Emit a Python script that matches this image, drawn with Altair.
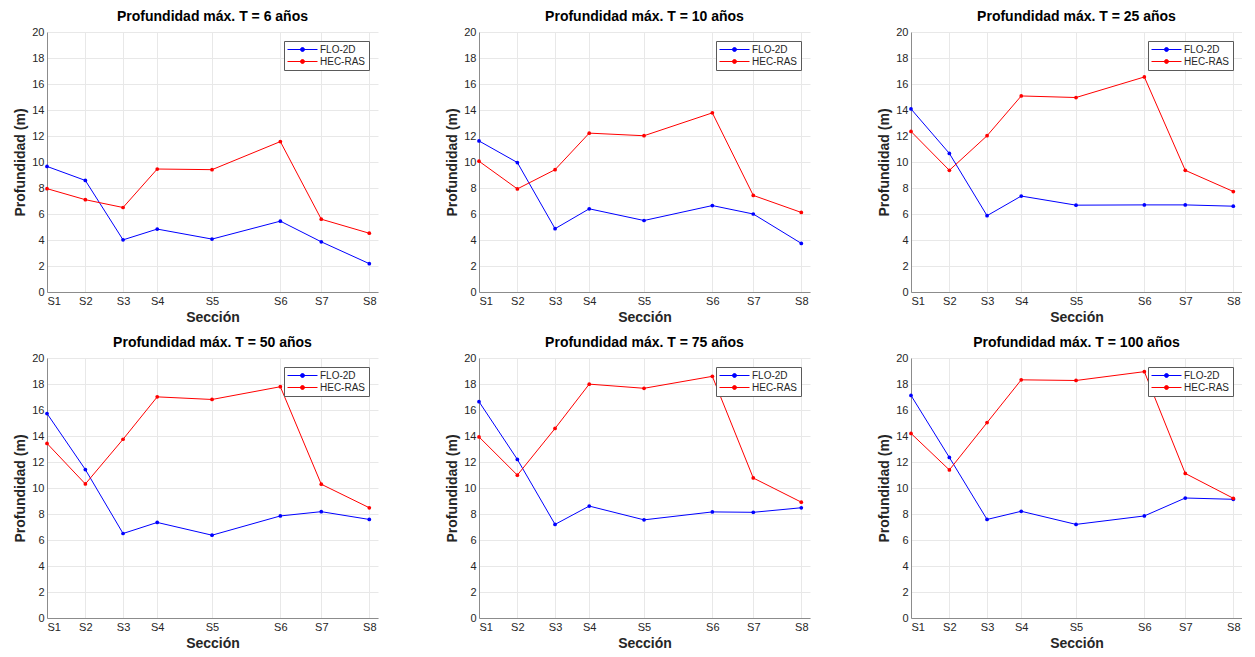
import json
import altair as alt
import pandas as pd

sections = ["S1", "S2", "S3", "S4", "S5", "S6", "S7", "S8"]
section_position = [0.0, 1.19, 2.36, 3.42, 5.12, 7.24, 8.51, 10.0]
models = ["FLO-2D", "HEC-RAS"]
model_colors = ["#0000ff", "#ff0000"]
return_periods = [6, 10, 25, 50, 75, 100]

flo2d_T6 = [9.66, 8.58, 4.01, 4.84, 4.07, 5.45, 3.86, 2.18]
hecras_T6 = [7.95, 7.10, 6.50, 9.46, 9.41, 11.57, 5.60, 4.52]
flo2d_T10 = [11.62, 9.96, 4.87, 6.40, 5.50, 6.65, 6.00, 3.74]
hecras_T10 = [10.06, 7.93, 9.41, 12.22, 12.02, 13.78, 7.43, 6.12]
flo2d_T25 = [14.08, 10.66, 5.87, 7.38, 6.68, 6.70, 6.70, 6.60]
hecras_T25 = [12.35, 9.36, 12.02, 15.08, 14.96, 16.54, 9.36, 7.73]
flo2d_T50 = [15.73, 11.42, 6.50, 7.35, 6.37, 7.85, 8.18, 7.58]
hecras_T50 = [13.43, 10.31, 13.75, 17.01, 16.81, 17.79, 10.29, 8.48]
flo2d_T75 = [16.64, 12.20, 7.20, 8.61, 7.55, 8.16, 8.13, 8.48]
hecras_T75 = [13.93, 10.99, 14.58, 17.99, 17.67, 18.59, 10.77, 8.91]
flo2d_T100 = [17.12, 12.35, 7.58, 8.21, 7.20, 7.85, 9.23, 9.13]
hecras_T100 = [14.20, 11.39, 15.03, 18.32, 18.27, 18.95, 11.12, 9.21]

flo2d_all = [flo2d_T6, flo2d_T10, flo2d_T25, flo2d_T50, flo2d_T75, flo2d_T100]
hecras_all = [hecras_T6, hecras_T10, hecras_T25, hecras_T50, hecras_T75, hecras_T100]

FONT = "Liberation Sans"
W, H = 331, 260
label_expr = f"{json.dumps(sections)}[indexof({json.dumps(section_position)}, datum.value)]"
# legend symbol: short line with a dot in the middle
legend_symbol = "M-3,0L3,0M-0.4,0A0.4,0.4,0,1,1,0.4,0A0.4,0.4,0,1,1,-0.4,0Z"


def panel(T, flo, hec):
    rows = []
    for s, p, f, h in zip(sections, section_position, flo, hec):
        rows.append({"section": s, "pos": p, "model": models[0], "depth": f})
        rows.append({"section": s, "pos": p, "model": models[1], "depth": h})
    df = pd.DataFrame(rows)
    x = alt.X(
        "pos:Q",
        scale=alt.Scale(domain=[0, 10.27], nice=False, zero=False),
        axis=alt.Axis(values=section_position, labelExpr=label_expr, title="Sección"),
    )
    y = alt.Y(
        "depth:Q",
        scale=alt.Scale(domain=[0, 20], nice=False),
        axis=alt.Axis(values=list(range(0, 21, 2)), title="Profundidad (m)"),
    )
    color = alt.Color(
        "model:N",
        scale=alt.Scale(domain=models, range=model_colors),
        legend=alt.Legend(
            title=None,
            orient="top-right",
            offset=9,
            symbolType=legend_symbol,
            symbolSize=100,
            symbolStrokeWidth=1,
            symbolOffset=10,
            labelOffset=12,
            labelFont=FONT,
            labelFontSize=10,
            labelColor="#262626",
            fillColor="white",
            strokeColor="#5a5a5a",
            padding=3,
            rowPadding=1,
            cornerRadius=0,
        ),
    )
    base = alt.Chart(df).encode(x=x, y=y, color=color)
    line = base.mark_line(strokeWidth=1)
    pts = base.mark_point(filled=True, size=14, opacity=1)
    return (line + pts).properties(
        width=W,
        height=H,
        title=alt.Title(f"Profundidad máx. T = {T} años"),
    )


panels = [panel(T, f, h) for T, f, h in zip(return_periods, flo2d_all, hecras_all)]
row1 = alt.hconcat(*panels[:3], spacing=67).resolve_legend(color="independent")
row2 = alt.hconcat(*panels[3:], spacing=67).resolve_legend(color="independent")
chart = (
    alt.vconcat(row1, row2, spacing=12)
    .resolve_legend(color="independent")
    .properties(padding={"left": 5, "top": 2, "right": 0, "bottom": 0})
    .configure_view(stroke=None)
    .configure_title(font=FONT, fontSize=14, fontWeight="bold", color="#000000", offset=2, anchor="middle")
    .configure_axis(
        labelFont=FONT,
        labelFontSize=11,
        labelColor="#262626",
        titleFont=FONT,
        titleFontSize=14,
        titleFontWeight="bold",
        titleColor="#262626",
        domainColor="#8c8c8c",
        gridColor="#e8e8e8",
        ticks=False,
        labelPadding=3,
        titlePadding=4,
    )
)
chart.save("out.html", embed_options={"renderer": "svg", "actions": False})
